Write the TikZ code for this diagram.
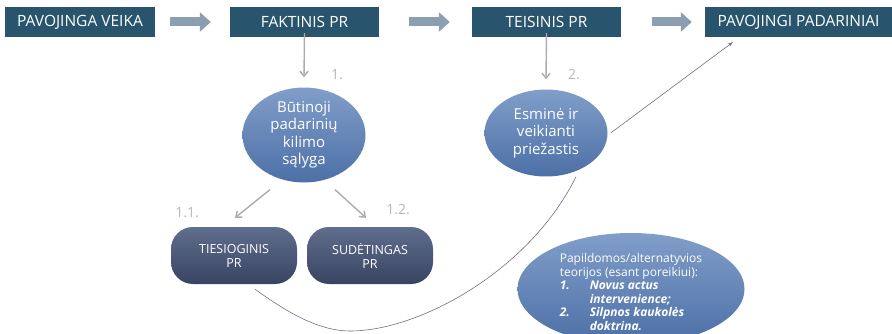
\documentclass[tikz,border=0pt]{standalone}
\usepackage{fontspec}
\setmainfont{Open Sans}
\usetikzlibrary{shapes.geometric,arrows.meta,calc}

\definecolor{stageblue}{RGB}{40,84,110}
\definecolor{ovaltop}{RGB}{128,158,201}
\definecolor{ovalbottom}{RGB}{76,111,166}
\definecolor{pilltop}{RGB}{96,110,141}
\definecolor{pillbottom}{RGB}{55,68,98}
\definecolor{flowgray}{RGB}{172,172,172}
\definecolor{numgray}{RGB}{182,182,182}
\definecolor{blockgray}{RGB}{140,158,178}
\definecolor{linkline}{RGB}{110,110,140}

\tikzset{
  stage/.style={rectangle, fill=stageblue, text=white, minimum height=30pt,
    inner sep=0pt, font=\fontsize{15.5}{18}\selectfont},
  oval/.style={ellipse, top color=ovaltop, bottom color=ovalbottom, draw=none,
    text=white, inner sep=0pt, align=center,
    font=\fontsize{15}{17.5}\selectfont},
  pill/.style={rectangle, rounded corners=22pt, top color=pilltop,
    bottom color=pillbottom, text=white, minimum width=126pt,
    minimum height=57pt, inner sep=0pt, align=center,
    font=\fontsize{12.5}{14}\selectfont},
  blockarrow/.style={draw=blockgray, line width=9pt,
    -{Triangle[length=11pt,width=19pt]}},
  flowarrow/.style={draw=flowgray, line width=1.4pt,
    -{Straight Barb[length=5pt,width=8pt]}},
  linkarrow/.style={draw=linkline, line width=0.6pt,
    -{Stealth[length=5pt,width=3.5pt]}},
  linkcurve/.style={draw=linkline, line width=0.6pt},
  numlabel/.style={text=numgray, font=\fontsize{14}{16}\selectfont, inner sep=0pt}
}

\begin{document}
\begin{tikzpicture}[x=1pt,y=-1pt]
\useasboundingbox (0,0) rectangle (892,334);

% stages along the top
\node[stage, minimum width=150pt] (veika) at (80,22) {PAVOJINGA VEIKA};
\node[stage, minimum width=149pt] (faktinis) at (304.5,22) {FAKTINIS PR};
\node[stage, minimum width=149pt] (teisinis) at (546.5,22) {TEISINIS PR};
\node[stage, minimum width=187pt] (padariniai) at (798.5,22) {PAVOJINGI PADARINIAI};

\draw[blockarrow] ([xshift=15pt]veika.east) -- ([xshift=-19pt]faktinis.west);
\draw[blockarrow] ([xshift=30pt]faktinis.east) -- ([xshift=-22pt]teisinis.west);
\draw[blockarrow] ([xshift=31pt]teisinis.east) -- ([xshift=-13pt]padariniai.west);

% causation tests
\node[oval, minimum width=123pt, minimum height=85pt] (butinoji) at (304,135)
  {Būtinoji\\padarinių\\kilimo\\sąlyga};
\node[oval, minimum width=123pt, minimum height=87pt] (esmine) at (546,133)
  {Esminė ir\\veikianti\\priežastis};

\draw[flowarrow] ([yshift=4pt]faktinis.south) -- ([yshift=10pt]butinoji.north);
\draw[flowarrow] ([yshift=4pt]teisinis.south) -- ([yshift=10pt]esmine.north);
\node[numlabel] (n1) at (337,75) {1.};
\node[numlabel] (n2) at (574,75) {2.};

% kinds of factual causation
\node[pill] (tiesioginis) at (234,255.5) {TIESIOGINIS\\PR};
\node[pill] (sudetingas) at (370,255.5) {SUDĖTINGAS\\PR};

\draw[flowarrow] ($(butinoji.south)+(-34,7)$) -- ($(tiesioginis.north)+(1,-9)$);
\draw[flowarrow] ($(butinoji.south)+(31,7)$) -- ($(sudetingas.north)+(-4,-9)$);
\node[numlabel] (n11) at (187,213) {1.1.};
\node[numlabel] (n12) at (398,210) {1.2.};

% supplementary theories
\node[ellipse, top color=ovaltop, bottom color=ovalbottom, inner sep=0pt,
  minimum width=227pt, minimum height=112pt] (papildomos) at (631,289) {};
\node[text=white, align=left, inner sep=0pt,
  font=\fontsize{12}{13.6}\selectfont] (teorijos) at (631,292)
  {Papildomos/alternatyvios\\
   teorijos (esant poreikiui):\\
   \makebox[30pt][l]{\textbf{\textit{1.}}}\textbf{\textit{Novus actus}}\\
   \hspace*{30pt}\textbf{\textit{intervenience;}}\\
   \makebox[30pt][l]{\textbf{\textit{2.}}}\textbf{\textit{Silpnos kaukolės}}\\
   \hspace*{30pt}\textbf{\textit{doktrina.}}};

% links
\draw[linkarrow] ([xshift=3pt]esmine.east) -- ($(padariniai.south west)+(28,5)$);
\draw[linkcurve] ($(tiesioginis.south)+(21,5)$)
  .. controls (280,307) and (315,331) .. (350,331)
  .. controls (420,331) and (530,270) .. ($(esmine.south)+(30,0)$);
\end{tikzpicture}
\end{document}
